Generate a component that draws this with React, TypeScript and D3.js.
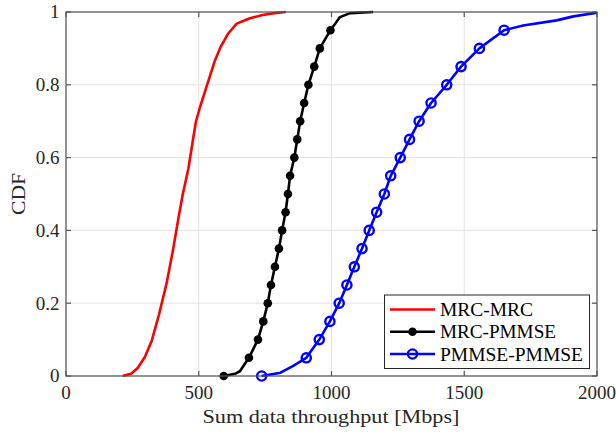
import React from "react";
import * as d3 from "d3";

// ---- data ----
const xTicks = [0, 500, 1000, 1500, 2000];
const yTicks = [0, 0.2, 0.4, 0.6, 0.8, 1];
const yTickLabels = ["0", "0.2", "0.4", "0.6", "0.8", "1"];

const seriesNames = ["MRC-MRC", "MRC-PMMSE", "PMMSE-PMMSE"];

// MRC-MRC (line only)
const mrcMrcX = [213, 245, 270, 297, 323, 350, 379, 404, 425, 440, 461, 489, 505, 536, 561, 583, 611, 643, 690, 740, 785, 828];
const mrcMrcY = [0, 0.006, 0.022, 0.052, 0.097, 0.168, 0.255, 0.35, 0.44, 0.5, 0.57, 0.698, 0.739, 0.81, 0.867, 0.905, 0.941, 0.968, 0.982, 0.992, 0.997, 1.0];

// MRC-PMMSE line
const mrcPmmseX = [594, 636, 655, 689, 723, 743, 760, 772, 787, 802, 814, 827, 836, 844, 860, 871, 882, 897, 913, 935, 956, 996, 1032, 1070, 1157];
const mrcPmmseY = [0, 0.006, 0.013, 0.05, 0.1, 0.15, 0.2, 0.25, 0.3, 0.35, 0.4, 0.45, 0.5, 0.55, 0.6, 0.65, 0.7, 0.75, 0.8, 0.85, 0.9, 0.95, 0.986, 0.997, 1.0];
// MRC-PMMSE marker points
const mrcPmmseMarkX = [594, 689, 723, 743, 760, 772, 787, 802, 814, 827, 836, 844, 860, 871, 882, 897, 913, 935, 956, 996];
const mrcPmmseMarkY = [0, 0.05, 0.1, 0.15, 0.2, 0.25, 0.3, 0.35, 0.4, 0.45, 0.5, 0.55, 0.6, 0.65, 0.7, 0.75, 0.8, 0.85, 0.9, 0.95];

// PMMSE-PMMSE line
const pmmseX = [737, 808, 856, 905, 954, 994, 1029, 1058, 1086, 1115, 1142, 1170, 1199, 1223, 1259, 1294, 1330, 1375, 1434, 1488, 1557, 1650, 1722, 1848, 1911, 2000];
const pmmseY = [0, 0.009, 0.028, 0.05, 0.1, 0.15, 0.2, 0.25, 0.3, 0.35, 0.4, 0.45, 0.5, 0.55, 0.6, 0.65, 0.7, 0.75, 0.8, 0.85, 0.9, 0.95, 0.963, 0.977, 0.988, 0.998];
const pmmseMarkX = [737, 905, 954, 994, 1029, 1058, 1086, 1115, 1142, 1170, 1199, 1223, 1259, 1294, 1330, 1375, 1434, 1488, 1557, 1650];
const pmmseMarkY = [0, 0.05, 0.1, 0.15, 0.2, 0.25, 0.3, 0.35, 0.4, 0.45, 0.5, 0.55, 0.6, 0.65, 0.7, 0.75, 0.8, 0.85, 0.9, 0.95];

const W = 616;
const H = 434;
const left = 66, right = 597, top = 12, bottom = 376;
const FONT = "'Liberation Serif', 'Times New Roman', serif";
const TXT = "#262626";

export default function App() {
  const x = d3.scaleLinear().domain([0, 2000]).range([left, right]);
  const y = d3.scaleLinear().domain([0, 1]).range([bottom, top]);
  const line = d3.line<[number, number]>().x(d => x(d[0])).y(d => y(d[1]));
  const zip = (a: number[], b: number[]) => a.map((v, i) => [v, b[i]] as [number, number]);

  const red = zip(mrcMrcX, mrcMrcY);
  const black = zip(mrcPmmseX, mrcPmmseY);
  const blackM = zip(mrcPmmseMarkX, mrcPmmseMarkY);
  const blue = zip(pmmseX, pmmseY);
  const blueM = zip(pmmseMarkX, pmmseMarkY);

  const lg = { x0: 384.5, y0: 295, x1: 589.5, y1: 368.5 };
  const rows = [309.5, 331.8, 354];

  return (
    <svg width={W} height={H} style={{ position: "absolute", left: 0, top: 0, background: "#fff" }} fontFamily={FONT}>
      <rect x={0} y={0} width={W} height={H} fill="#fff" />
      {/* grid */}
      {xTicks.map(t => (
        <line key={"gx" + t} x1={x(t)} x2={x(t)} y1={top} y2={bottom} stroke="#e3e3e3" strokeWidth={1} />
      ))}
      {yTicks.map(t => (
        <line key={"gy" + t} x1={left} x2={right} y1={y(t)} y2={y(t)} stroke="#e3e3e3" strokeWidth={1} />
      ))}
      {/* curves */}
      <path d={line(red) || ""} fill="none" stroke="#ff0000" strokeWidth={2.6} strokeLinejoin="round" />
      <path d={line(black) || ""} fill="none" stroke="#000" strokeWidth={2.6} strokeLinejoin="round" />
      {blackM.map((d, i) => (
        <circle key={"bm" + i} cx={x(d[0])} cy={y(d[1])} r={4.3} fill="#000" />
      ))}
      <path d={line(blue) || ""} fill="none" stroke="#0000ff" strokeWidth={2.6} strokeLinejoin="round" />
      {blueM.map((d, i) => (
        <circle key={"um" + i} cx={x(d[0])} cy={y(d[1])} r={4.6} fill="none" stroke="#0000ff" strokeWidth={2.4} />
      ))}
      {/* axes box */}
      <rect x={left} y={top} width={right - left} height={bottom - top} fill="none" stroke="#555" strokeWidth={1.2} />
      {xTicks.map(t => (
        <g key={"tx" + t}>
          <line x1={x(t)} x2={x(t)} y1={bottom} y2={bottom - 5} stroke="#555" strokeWidth={1.2} />
          <line x1={x(t)} x2={x(t)} y1={top} y2={top + 5} stroke="#555" strokeWidth={1.2} />
          <text x={x(t)} y={399} textAnchor="middle" fontSize={19} fill={TXT}>{t}</text>
        </g>
      ))}
      {yTicks.map((t, i) => (
        <g key={"ty" + t}>
          <line x1={left} x2={left + 5} y1={y(t)} y2={y(t)} stroke="#555" strokeWidth={1.2} />
          <line x1={right} x2={right - 5} y1={y(t)} y2={y(t)} stroke="#555" strokeWidth={1.2} />
          <text x={59.5} y={y(t) + 6.3} textAnchor="end" fontSize={19} fill={TXT}>{yTickLabels[i]}</text>
        </g>
      ))}
      <text x={331} y={423} textAnchor="middle" fontSize={19} fill={TXT} textLength={257} lengthAdjust="spacingAndGlyphs">Sum data throughput [Mbps]</text>
      <text transform="translate(25,194) rotate(-90)" textAnchor="middle" fontSize={19} fill={TXT} textLength={42} lengthAdjust="spacingAndGlyphs">CDF</text>
      {/* legend */}
      <rect x={lg.x0} y={lg.y0} width={lg.x1 - lg.x0} height={lg.y1 - lg.y0} fill="#fff" stroke="#262626" strokeWidth={1} />
      <line x1={390} x2={435} y1={rows[0]} y2={rows[0]} stroke="#ff0000" strokeWidth={2.6} />
      <line x1={390} x2={435} y1={rows[1]} y2={rows[1]} stroke="#000" strokeWidth={2.6} />
      <circle cx={412.5} cy={rows[1]} r={4.3} fill="#000" />
      <line x1={390} x2={435} y1={rows[2]} y2={rows[2]} stroke="#0000ff" strokeWidth={2.6} />
      <circle cx={412.5} cy={rows[2]} r={4.6} fill="none" stroke="#0000ff" strokeWidth={2.4} />
      {seriesNames.map((n, i) => (
        <text key={n} x={440} y={rows[i] + 6.5} fontSize={19} fill="#000"
          textLength={[93, 116, 143][i]} lengthAdjust="spacingAndGlyphs">{n}</text>
      ))}
    </svg>
  );
}
